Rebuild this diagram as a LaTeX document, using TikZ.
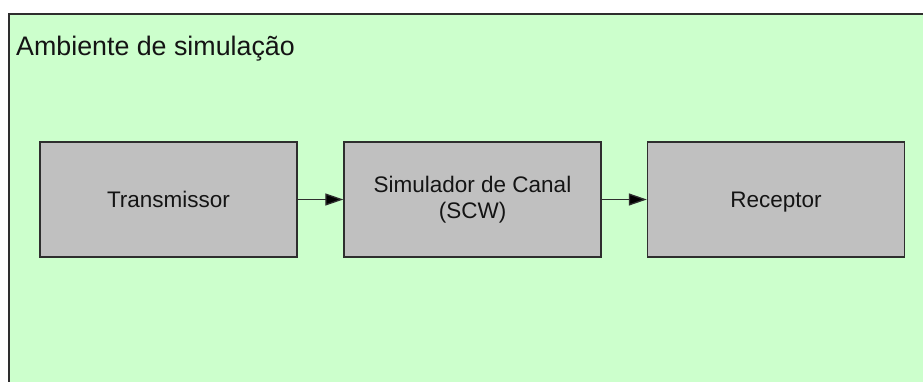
\documentclass[tikz,border=0pt]{standalone}
\usepackage{fontspec}
\setmainfont{Liberation Sans}
\usetikzlibrary{arrows.meta}
\definecolor{envgreen}{HTML}{CCFFCC}
\definecolor{boxgray}{HTML}{C0C0C0}
\definecolor{edge}{HTML}{2E2E2E}
\definecolor{txt}{HTML}{141414}
\tikzset{
  blockbox/.style={draw=edge, line width=1.4pt, fill=boxgray, minimum width=257pt, minimum height=115pt,
    inner sep=0pt, text=txt, font=\fontsize{22.5}{26}\selectfont, align=center},
  conn/.style={draw=edge, line width=1.3pt, -{Triangle[length=18pt,width=12pt,fill=black]}}
}
\begin{document}
\begin{tikzpicture}[x=1pt,y=-1pt]
\useasboundingbox (0,0) rectangle (923,382);
\fill[white] (0,0) rectangle (923,382);
\draw[draw=edge, line width=1.4pt, fill=envgreen] (9,14) rectangle (935,395);
\node[anchor=base west, inner sep=0pt, text=txt, font=\fontsize{26.8}{30}\selectfont] (title) at (16,56) {Ambiente de simulação};
\node[blockbox] (tx) at (168.5,199.5) {Transmissor};
\node[blockbox] (sim) at (472.5,199.5) {Simulador de Canal\\\rule{0pt}{0pt}(SCW)\rule[-3pt]{0pt}{0pt}};
\node[blockbox, text depth=0pt] (rx) at (776,199.5) {Receptor};
\draw[conn] (tx) -- (sim);
\draw[conn] (sim.east |- tx.east) -- (rx);
\end{tikzpicture}
\end{document}
